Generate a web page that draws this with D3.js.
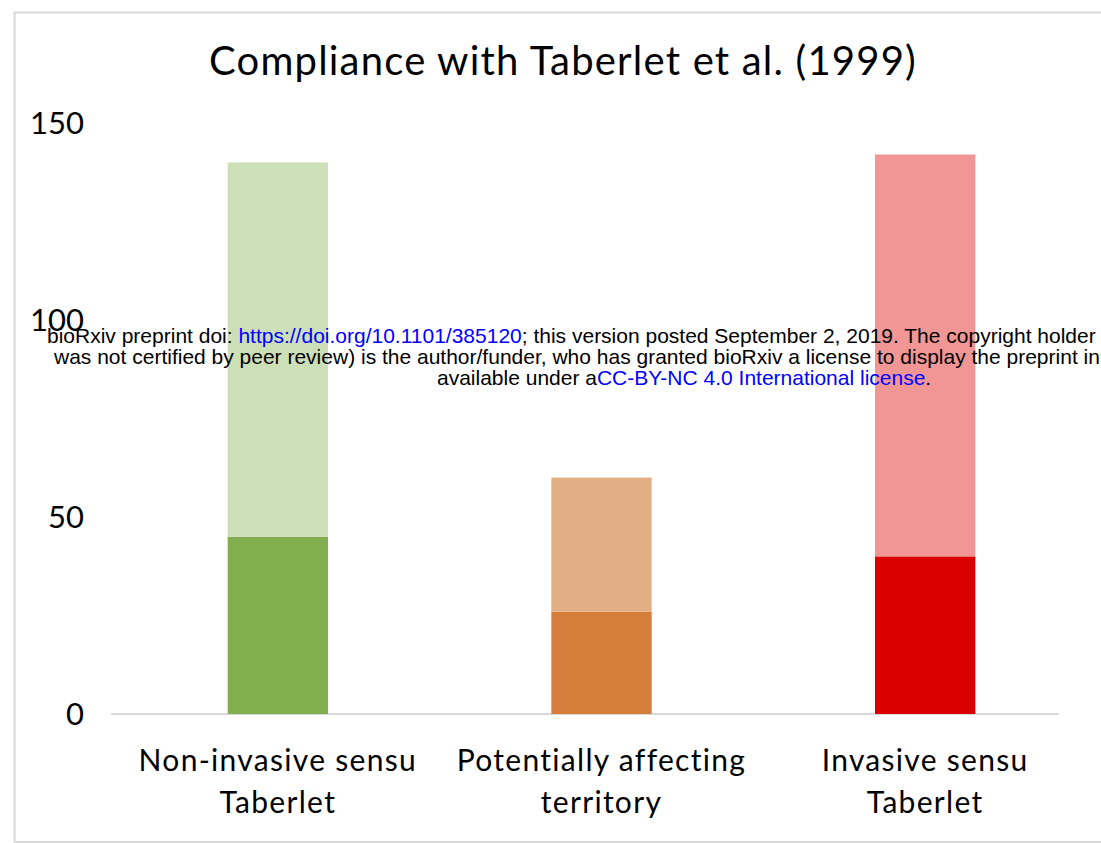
<!DOCTYPE html>
<html lang="en">
<head>
<meta charset="UTF-8">
<script src="https://cdn.jsdelivr.net/npm/d3@7"></script>
<title>Compliance with Taberlet</title>
<style>
  body { margin: 0; background: #fff; }
  .cal { font-family: Lato, "Open Sans", sans-serif; fill: #000; }
  .wm { font-family: "Liberation Sans", Arial, sans-serif; font-size: 21px; fill: #000; }
  .wm .lnk { fill: #0000ff; }
</style>
</head>
<body>
<div id="chart"></div>
<script>
// data
var categories = [["Non-invasive sensu", "Taberlet"], ["Potentially affecting", "territory"], ["Invasive sensu", "Taberlet"]];
var darkVals = [45, 26, 40];     // lower segment
var lightVals = [95, 34, 102];   // upper segment
var darkColors = ["#82ae50", "#d57d3a", "#da0000"];
var lightColors = ["#cddfb6", "#e2af84", "#f09695"];
var yTicks = [0, 50, 100, 150];

var W = 1101, H = 843;
var svg = d3.select("#chart").append("svg")
    .attr("width", W).attr("height", H);

// frame
svg.append("rect")
    .attr("x", 14.5).attr("y", 12.5)
    .attr("width", 1100).attr("height", 829.5)
    .attr("fill", "none").attr("stroke", "#d9d9d9").attr("stroke-width", 2);

svg.append("text").attr("class", "cal")
    .attr("x", 563).attr("y", 75)
    .attr("text-anchor", "middle")
    .style("font-size", "40px").style("letter-spacing", "1.2px")
    .text("Compliance with Taberlet et al. (1999)");

var y = d3.scaleLinear().domain([0, 150]).range([714, 123]);
var x = d3.scaleBand().domain(d3.range(categories.length))
    .range([116, 1087]).paddingInner(0.69).paddingOuter(0.345);

// y axis labels only
var yAxis = d3.axisLeft(y).tickValues(yTicks).tickSize(0).tickPadding(0);
var gy = svg.append("g").attr("transform", "translate(84,0)").call(yAxis);
gy.select(".domain").remove();
gy.selectAll("text").attr("class", "cal")
    .style("font-size", "31px").attr("dy", "0.33em").attr("fill", "#000");

// baseline
svg.append("line")
    .attr("x1", 111).attr("x2", 1059)
    .attr("y1", y(0)).attr("y2", y(0))
    .attr("stroke", "#d9d9d9").attr("stroke-width", 2);

// stacked bars
var bars = svg.append("g");
categories.forEach(function (c, i) {
  bars.append("rect")
      .attr("x", x(i)).attr("width", x.bandwidth())
      .attr("y", y(darkVals[i])).attr("height", y(0) - y(darkVals[i]))
      .attr("fill", darkColors[i]);
  bars.append("rect")
      .attr("x", x(i)).attr("width", x.bandwidth())
      .attr("y", y(darkVals[i] + lightVals[i]))
      .attr("height", y(darkVals[i]) - y(darkVals[i] + lightVals[i]))
      .attr("fill", lightColors[i]);
});

// category labels
var xl = svg.append("g");
categories.forEach(function (c, i) {
  var t = xl.append("text").attr("class", "cal")
      .attr("text-anchor", "middle")
      .style("font-size", "30px").style("letter-spacing", "1.3px");
  c.forEach(function (line, j) {
    t.append("tspan")
        .attr("x", x(i) + x.bandwidth() / 2)
        .attr("y", 771 + j * 42)
        .text(line);
  });
});

// preprint stamp
var wm = svg.append("g").attr("class", "wm");
var l1 = wm.append("text").attr("x", 47).attr("y", 343);
l1.append("tspan").text("bioRxiv preprint doi: ");
l1.append("tspan").attr("class", "lnk").text("https://doi.org/10.1101/385120");
l1.append("tspan").text("; this version posted September 2, 2019. The copyright holder for this preprint (which");
wm.append("text").attr("x", 54).attr("y", 364)
    .text("was not certified by peer review) is the author/funder, who has granted bioRxiv a license to display the preprint in perpetuity. It is made");
var l3 = wm.append("text").attr("x", 437).attr("y", 385);
l3.append("tspan").text("available under a");
l3.append("tspan").attr("class", "lnk").text("CC-BY-NC 4.0 International license");
l3.append("tspan").text(".");
</script>
</body>
</html>
